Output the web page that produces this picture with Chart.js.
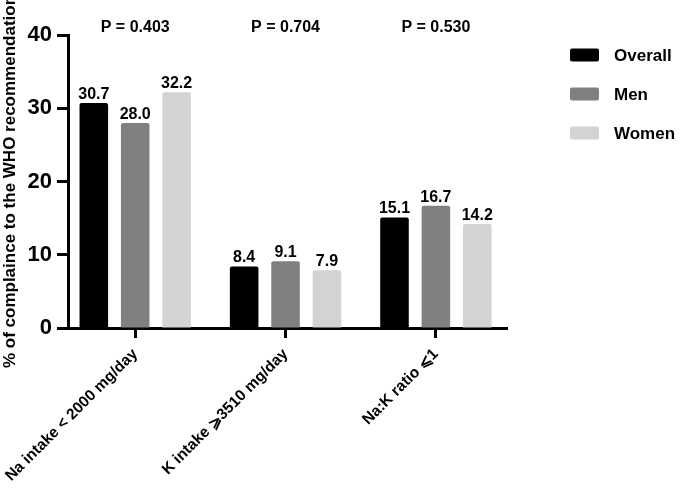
<!DOCTYPE html>
<html>
<head>
<meta charset="utf-8">
<script src="https://cdn.jsdelivr.net/npm/chart.js@4/dist/chart.umd.min.js"></script>
<style>
  body { margin: 0; background: #fff; }
  #wrap { width: 685px; height: 489px; }
</style>
</head>
<body>
<div id="wrap"><canvas id="chart" width="685" height="489"></canvas></div>
<script>
// categories and values
const categories = ['Na intake < 2000 mg/day', 'K intake \u2A7E3510 mg/day', 'Na:K ratio \u2A7D1'];
const overall = [30.7, 8.4, 15.1];
const men = [28.0, 9.1, 16.7];
const women = [32.2, 7.9, 14.2];
const pValues = ['P = 0.403', 'P = 0.704', 'P = 0.530'];
const yTicks = [0, 10, 20, 30, 40];

const FONT = "'Liberation Sans', Arial, sans-serif";

function toPoints(arr) {
    return arr.map((v, i) => ({ x: i, y: v }));
}

// value labels over the bars, P values over each group, legend on the right
const labelPlugin = {
    id: 'labels',
    afterDatasetsDraw(chart) {
        const ctx = chart.ctx;
        ctx.save();
        ctx.fillStyle = '#000';
        ctx.textAlign = 'center';
        ctx.textBaseline = 'alphabetic';
        ctx.font = 'bold 16px ' + FONT;
        chart.data.datasets.forEach((ds, di) => {
            const meta = chart.getDatasetMeta(di);
            meta.data.forEach((bar, i) => {
                ctx.fillText(ds.data[i].y.toFixed(1), bar.x, bar.y - 4);
            });
        });
        const xs = chart.scales.x;
        pValues.forEach((p, i) => {
            ctx.fillText(p, xs.getPixelForValue(i), 32);
        });

        // legend
        ctx.textAlign = 'left';
        ctx.textBaseline = 'middle';
        ctx.font = 'bold 17px ' + FONT;
        chart.data.datasets.forEach((ds, di) => {
            const cy = 55 + di * 39;
            ctx.fillStyle = ds.backgroundColor;
            ctx.beginPath();
            ctx.roundRect(570, cy - 6.5, 29, 13, 2);
            ctx.fill();
            ctx.fillStyle = '#000';
            ctx.fillText(ds.label, 614, cy + 1);
        });
        ctx.restore();
    }
};

new Chart(document.getElementById('chart'), {
    type: 'bar',
    data: {
        datasets: [
            { label: 'Overall', data: toPoints(overall), backgroundColor: '#000000', borderRadius: 2 },
            { label: 'Men', data: toPoints(men), backgroundColor: '#808080', borderRadius: 2 },
            { label: 'Women', data: toPoints(women), backgroundColor: '#d3d3d3', borderRadius: 2 }
        ]
    },
    options: {
        responsive: false,
        animation: false,
        categoryPercentage: 0.826,
        barPercentage: 0.69,
        layout: { padding: { top: 35, left: 0, right: 178, bottom: 0 } },
        plugins: {
            tooltip: { enabled: false },
            legend: { display: false }
        },
        scales: {
            x: {
                type: 'linear',
                offset: false,
                min: -0.447,
                max: 2.473,
                afterBuildTicks: (axis) => { axis.ticks = categories.map((c, i) => ({ value: i })); },
                afterFit: (axis) => {
                    axis.height = 161;
                    axis.paddingLeft = 0;
                    axis.paddingRight = 0;
                },
                ticks: {
                    color: '#000',
                    autoSkip: false,
                    minRotation: 45,
                    maxRotation: 45,
                    padding: 7,
                    font: { family: FONT, size: 15.5, weight: 'bold' },
                    callback: (v) => categories[v]
                },
                grid: {
                    offset: false,
                    drawOnChartArea: false,
                    drawTicks: true,
                    tickLength: 10,
                    tickWidth: 3,
                    color: '#000'
                },
                border: { color: '#000', width: 3 }
            },
            y: {
                min: 0,
                max: 40,
                afterBuildTicks: (axis) => { axis.ticks = yTicks.map(v => ({ value: v })); },
                afterFit: (axis) => { axis.width = 68; },
                ticks: {
                    color: '#000',
                    padding: 5,
                    font: { family: FONT, size: 22, weight: 'bold' }
                },
                grid: {
                    drawOnChartArea: false,
                    drawTicks: true,
                    tickLength: 11,
                    tickWidth: 3,
                    color: '#000'
                },
                border: { color: '#000', width: 3 },
                title: {
                    display: true,
                    text: '% of complaince to the WHO recommendation',
                    color: '#000',
                    padding: 0,
                    font: { family: FONT, size: 17, weight: 'bold' }
                }
            }
        }
    },
    plugins: [labelPlugin]
});
</script>
</body>
</html>
